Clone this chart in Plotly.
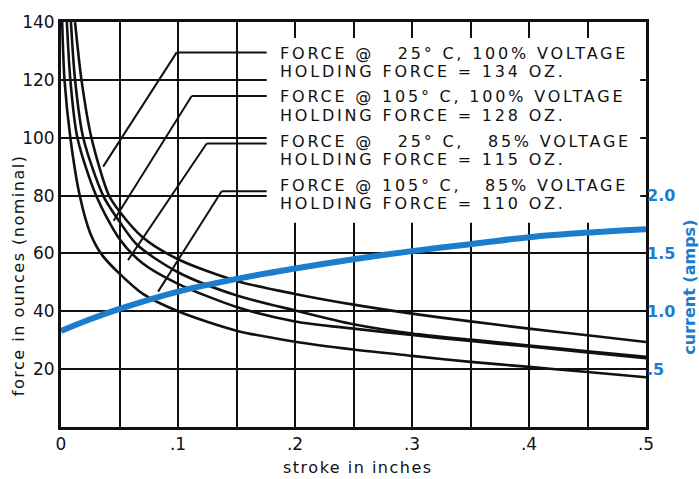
import plotly.graph_objects as go

# ---- data ----
# force curves: stroke (inches) vs force (ounces)
stroke_a = [0.012, 0.0175, 0.026, 0.041, 0.05, 0.07, 0.1, 0.15, 0.2, 0.25, 0.3, 0.35, 0.4, 0.45, 0.5]
force_a = [140, 120, 100, 80, 74.5, 65.5, 58, 50.5, 46, 42.3, 39.2, 36.5, 34, 31.7, 29.4]

stroke_b = [0.0085, 0.012, 0.019, 0.036, 0.05, 0.065, 0.1, 0.15, 0.2, 0.25, 0.3, 0.35, 0.4, 0.45, 0.5]
force_b = [140, 120, 100, 80, 71, 63, 53.5, 45.5, 40.3, 35.5, 32.3, 30.2, 28.2, 26.2, 24.3]

stroke_c = [0.005, 0.008, 0.014, 0.03, 0.05, 0.07, 0.1, 0.15, 0.2, 0.25, 0.3, 0.35, 0.4, 0.45, 0.5]
force_c = [140, 120, 100, 80, 65, 56.5, 49.5, 41.5, 36.5, 34, 31.8, 29.7, 27.8, 25.8, 23.8]

stroke_d = [0.001, 0.003, 0.008, 0.016, 0.025, 0.035, 0.05, 0.07, 0.1, 0.15, 0.2, 0.25, 0.3, 0.35, 0.4, 0.45, 0.5]
force_d = [140, 120, 100, 80, 67, 59.5, 53, 46, 40, 33.3, 29.5, 26.8, 24.6, 22.5, 20.8, 19, 17.2]

# current curve: stroke vs amps
stroke_i = [0, 0.022, 0.05, 0.1, 0.15, 0.2, 0.25, 0.3, 0.35, 0.4, 0.45, 0.5]
current_i = [0.83, 0.92, 1.02, 1.17, 1.28, 1.37, 1.45, 1.52, 1.58, 1.64, 1.68, 1.71]

# tick labels
x_tickvals = [0, 0.05, 0.1, 0.15, 0.2, 0.25, 0.3, 0.35, 0.4, 0.45, 0.5]
x_ticktext = ["0", "", ".1", "", ".2", "", ".3", "", ".4", "", ".5"]
y_tickvals = [0, 20, 40, 60, 80, 100, 120, 140]
y_ticktext = ["", "20", "40", "60", "80", "100", "120", "140"]
y2_tickvals = [0.5, 1.0, 1.5, 2.0]
y2_ticktext = [".5", "1.0", "1.5", "2.0"]

label_lines = [
    "FORCE @\u00a0\u00a0 25° C, 100% VOLTAGE",
    "HOLDING FORCE = 134 OZ.",
    "FORCE @ 105° C, 100% VOLTAGE",
    "HOLDING FORCE = 128 OZ.",
    "FORCE @\u00a0\u00a0 25° C,\u00a0\u00a0 85% VOLTAGE",
    "HOLDING FORCE = 115 OZ.",
    "FORCE @ 105° C,\u00a0\u00a0 85% VOLTAGE",
    "HOLDING FORCE = 110 OZ.",
]

BLUE = "#1b7dcc"
BLACK = "#111111"
FONT = "DejaVu Sans"


def spaced(txt, px):
    return '<span style="letter-spacing:%spx">%s</span>' % (px, txt)


fig = go.Figure()
for sx, fy in [(stroke_a, force_a), (stroke_b, force_b), (stroke_c, force_c), (stroke_d, force_d)]:
    fig.add_trace(go.Scatter(x=sx, y=fy, mode="lines",
                             line=dict(color=BLACK, width=2.6, shape="spline", smoothing=0.8),
                             showlegend=False, hoverinfo="skip"))
fig.add_trace(go.Scatter(x=stroke_i, y=current_i, mode="lines", yaxis="y2",
                         line=dict(color=BLUE, width=6, shape="spline", smoothing=0.8),
                         showlegend=False, hoverinfo="skip"))

# white panel behind the legend text (blanks the grid there)
shapes = [dict(type="rect", xref="x", yref="y", x0=0.1758, x1=0.495, y0=70.6, y1=134.5,
               fillcolor="white", line=dict(width=0), layer="above")]
# leader lines: (end point on curve) -> corner -> label
leaders = [
    ((0.036, 90.0), (0.0989, 129.5)),
    ((0.045, 71.3), (0.1117, 114.4)),
    ((0.0573, 57.7), (0.1245, 98.0)),
    ((0.083, 46.8), (0.1373, 81.5)),
]
for (ex, ey), (cx, cy) in leaders:
    shapes.append(dict(type="line", xref="x", yref="y", x0=ex, y0=ey, x1=cx, y1=cy,
                       line=dict(color=BLACK, width=2), layer="above"))
    shapes.append(dict(type="line", xref="x", yref="y", x0=cx, y0=cy, x1=0.1758, y1=cy,
                       line=dict(color=BLACK, width=2), layer="above"))

annotations = []
label_y = [129.2, 123.0, 114.1, 107.8, 98.8, 92.6, 83.4, 77.2]
for txt, ly in zip(label_lines, label_y):
    annotations.append(dict(x=0.1855, y=ly, xref="x", yref="y", text=spaced(txt, 2.8),
                            showarrow=False, xanchor="left", yanchor="middle",
                            font=dict(family=FONT, size=16, color=BLACK)))

annotations += [
    dict(x=-0.0735, y=0.375, xref="paper", yref="paper",
         text=spaced("force in ounces (nominal)", 1.5),
         textangle=-90, showarrow=False, xanchor="center", yanchor="middle",
         font=dict(family=FONT, size=16, color=BLACK)),
    dict(x=0.507, y=-0.1, xref="paper", yref="paper", text=spaced("stroke in inches", 1.5),
         showarrow=False, xanchor="center", yanchor="middle",
         font=dict(family=FONT, size=16, color=BLACK)),
    dict(x=1.075, y=0.346, xref="paper", yref="paper", text="<b>current (amps)</b>",
         textangle=-90, showarrow=False, xanchor="center", yanchor="middle",
         font=dict(family=FONT, size=16, color=BLUE)),
]

fig.update_layout(
    width=699, height=479,
    margin=dict(l=61, r=53, t=17, b=52),
    paper_bgcolor="white", plot_bgcolor="white",
    xaxis=dict(range=[0, 0.5], tickvals=x_tickvals, ticktext=x_ticktext,
               showgrid=True, gridcolor=BLACK, gridwidth=2, zeroline=False,
               showline=True, linecolor=BLACK, linewidth=3, mirror=True, ticks="",
               tickfont=dict(family=FONT, size=17, color=BLACK)),
    yaxis=dict(range=[0, 140], tickvals=y_tickvals, ticktext=y_ticktext,
               showgrid=True, gridcolor=BLACK, gridwidth=2, zeroline=False,
               showline=True, linecolor=BLACK, linewidth=3, mirror=True, ticks="",
               tickfont=dict(family=FONT, size=17, color=BLACK)),
    yaxis2=dict(range=[0, 3.5], overlaying="y", side="right", tickvals=y2_tickvals,
                ticktext=y2_ticktext, showgrid=False, zeroline=False, showline=False, ticks="",
                tickfont=dict(family=FONT, size=16, color=BLUE, weight="bold")),
    shapes=shapes,
    annotations=annotations,
)

fig.write_html("out.html", config={"displayModeBar": False},
               post_script="document.body.style.margin='0px';document.body.style.overflow='hidden';")
